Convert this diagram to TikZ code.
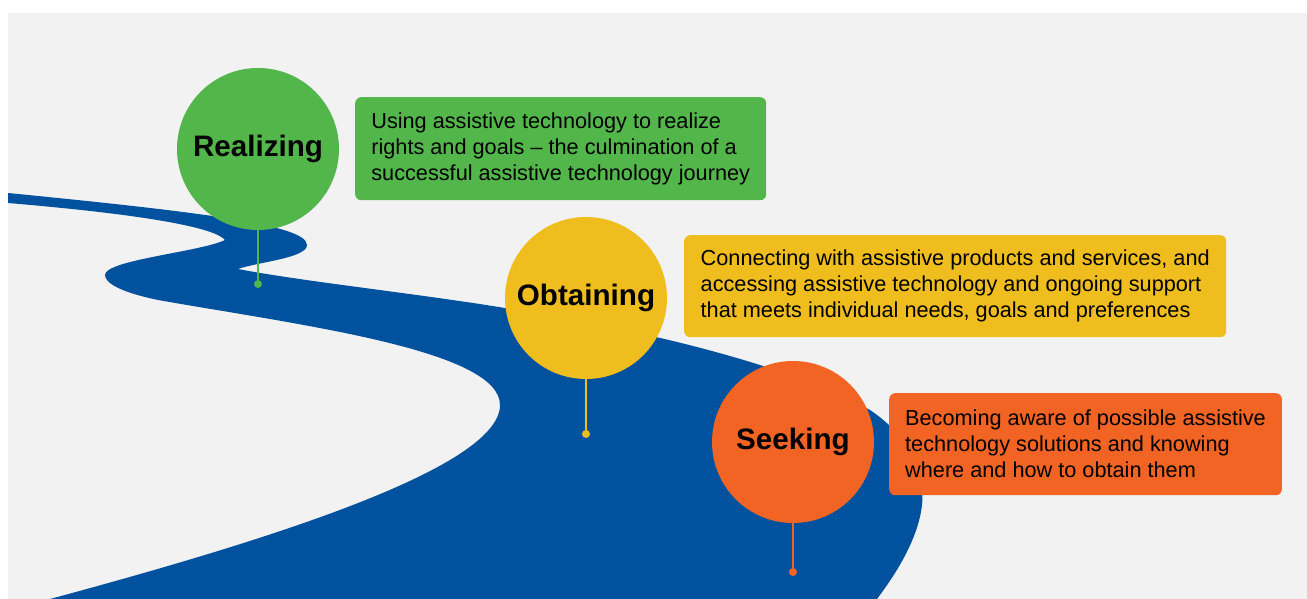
\documentclass[tikz,border=0pt]{standalone}
\usepackage{fontspec}
\setmainfont{Liberation Sans}
\definecolor{roadblue}{RGB}{0,81,158}
\definecolor{bggray}{RGB}{242,242,242}
\definecolor{realgreen}{RGB}{83,182,74}
\definecolor{obtyellow}{RGB}{239,190,30}
\definecolor{seekorange}{RGB}{241,100,36}
\usetikzlibrary{positioning}

\begin{document}
\begin{tikzpicture}[x=1pt, y=-1pt,
    stage/.style={circle, minimum size=162pt, inner sep=0pt, font=\bfseries\fontsize{29.6}{32}\selectfont},
    note/.style={rounded corners=6pt, anchor=north west, align=left, inner xsep=16pt, inner ysep=0pt, minimum height=102pt, font=\fontsize{21.7}{26}\selectfont},
    pin/.style={circle, minimum size=8pt, inner sep=0pt},
    stem/.style={line width=2pt}]
    \useasboundingbox (0,0) rectangle (1307,599);
    \fill[bggray] (8,13) rectangle (1307,599);
    % the road
    \begin{scope}
        \clip (8,13) rectangle (1307,599);
        \fill[roadblue] (8,193) .. controls (200,212) and (307,225) .. (307,245)
            .. controls (307,258) and (258,262) .. (238,269)
            .. controls (300,281) and (420,294) .. (505,308)
            .. controls (620,326) and (780,360) .. (870,410)
            .. controls (915,440) and (925,480) .. (922,505)
            .. controls (918,540) and (895,575) .. (877,599)
            -- (877,610) -- (40,610) -- (50,599)
            .. controls (250,545) and (500,470) .. (500,405)
            .. controls (500,350) and (300,325) .. (158,300)
            .. controls (120,292) and (105,283) .. (105,275)
            .. controls (105,260) and (200,252) .. (225,240)
            .. controls (215,228) and (150,215) .. (8,203) -- cycle;
    \end{scope}

    \node[pin, fill=realgreen] (realdot) at (258,284) {};
    \node[pin, fill=obtyellow] (obtdot) at (586,434) {};
    \node[pin, fill=seekorange] (seekdot) at (793,572) {};

    \node[stage, fill=realgreen] (real) at (258,149) {Realizing};
    \node[stage, fill=obtyellow] (obt) at (586,298) {Obtaining};
    \node[stage, fill=seekorange] (seek) at (793,442) {Seeking};

    \draw[stem, realgreen] (real.south) -- (realdot.center);
    \draw[stem, obtyellow] (obt.south) -- (obtdot.center);
    \draw[stem, seekorange] (seek.south) -- (seekdot.center);

    \node[note, fill=realgreen, minimum width=411pt, minimum height=103pt] (realnote) at (355,97)
        {Using assistive technology to realize\\rights and goals -- the culmination of a\\successful assistive technology journey};
    \node[note, fill=obtyellow, minimum width=542pt] (obtnote) at (684,235)
        {Connecting with assistive products and services, and\\accessing assistive technology and ongoing support\\that meets individual needs, goals and preferences};
    \node[note, fill=seekorange, minimum width=391pt] (seeknote) at (889,393)
        {Becoming aware of possible assistive\\technology solutions and knowing\\where and how to obtain them};
\end{tikzpicture}
\end{document}
